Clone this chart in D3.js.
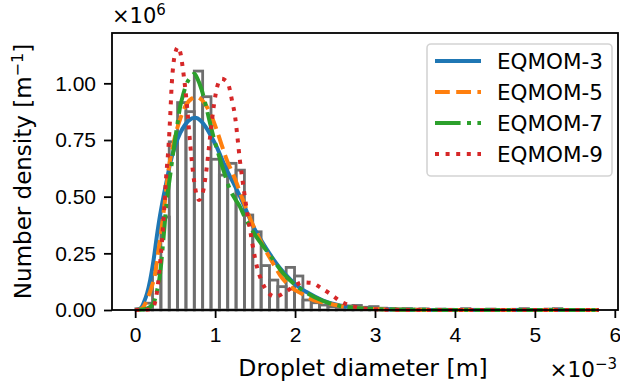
<!DOCTYPE html>
<html>
<head>
<meta charset="utf-8">
<script src="https://cdn.jsdelivr.net/npm/d3@7"></script>
<style>
  body { margin: 0; background: #fff; }
  svg { font-family: "DejaVu Sans", sans-serif; }
</style>
</head>
<body>
<div id="chart"></div>
<script>
// diameters in units of 1e-3 m, densities in units of 1e6 1/m
var binEdges = [0.008, 0.1125, 0.217, 0.3215, 0.426, 0.5305, 0.635, 0.7395, 0.844, 0.9485,
  1.053, 1.1575, 1.262, 1.3665, 1.471, 1.5755, 1.68, 1.7845, 1.889, 1.9935,
  2.098, 2.2025, 2.307, 2.4115, 2.516, 2.6205, 2.725, 2.8295, 2.934, 3.0385,
  3.143, 3.2475, 3.352, 3.4565, 3.561, 3.6655, 3.77, 3.8745, 3.979, 4.0835,
  4.188, 4.2925, 4.397, 4.5015, 4.606, 4.7105, 4.815, 4.9195, 5.024, 5.1285,
  5.233, 5.3375, 5.442, 5.5465, 5.651, 5.7555];
var binHeights = [0.005, 0.03, 0.16, 0.41, 0.742, 0.915, 0.875, 1.054, 0.941, 0.665,
  0.595, 0.647, 0.617, 0.419, 0.345, 0.196, 0.132, 0.103, 0.188, 0.15,
  0.044, 0.032, 0.022, 0.015, 0.012, 0.018, 0.02, 0.012, 0.015, 0.008,
  0.006, 0.004, 0.006, 0.003, 0.005, 0.002, 0.004, 0.003, 0.002, 0.006,
  0.003, 0.002, 0.004, 0.002, 0.001, 0.003, 0.006, 0.002, 0.001, 0.004,
  0.006, 0.002, 0.001, 0.002, 0.001];

var eqmom3 = [[0,0],[0.04,0.003],[0.08,0.012],[0.104,0.03],[0.15,0.075],[0.1875,0.132],[0.23,0.22],
  [0.27,0.323],[0.31,0.415],[0.354,0.5],[0.4,0.58],[0.4375,0.647],[0.5,0.725],[0.5625,0.78],
  [0.62,0.815],[0.667,0.835],[0.75,0.848],[0.82,0.835],[0.896,0.8],[0.96,0.76],[1.02,0.72],
  [1.08,0.67],[1.146,0.617],[1.23,0.56],[1.3125,0.5],[1.4,0.43],[1.48,0.367],[1.58,0.305],
  [1.6875,0.245],[1.81,0.185],[1.94,0.135],[2.06,0.098],[2.15,0.078],[2.35,0.042],[2.56,0.02],
  [2.8,0.009],[3.0,0.004],[3.3,0.0015],[3.7,0.0004],[4.5,0],[5.8,0]];
var eqmom5 = [[0,0],[0.06,0.003],[0.1,0.012],[0.146,0.044],[0.2,0.095],[0.25,0.162],[0.29,0.26],
  [0.333,0.367],[0.375,0.49],[0.417,0.617],[0.47,0.72],[0.52,0.794],[0.57,0.85],[0.625,0.897],
  [0.708,0.933],[0.77,0.94],[0.83,0.928],[0.896,0.897],[0.96,0.85],[1.02,0.794],[1.08,0.73],
  [1.146,0.662],[1.21,0.61],[1.27,0.559],[1.31,0.52],[1.396,0.441],[1.4375,0.404],[1.5,0.355],
  [1.5625,0.309],[1.604,0.28],[1.6875,0.228],[1.75,0.19],[1.81,0.155],[1.94,0.103],[2.08,0.073],
  [2.23,0.044],[2.4,0.03],[2.56,0.018],[2.8,0.008],[3.0,0.004],[3.3,0.0015],[3.7,0.0005],[4.5,0],[5.8,0]];
var eqmom7 = [[0,0],[0.1,0.002],[0.17,0.01],[0.23,0.03],[0.27,0.08],[0.3125,0.162],[0.35,0.3],
  [0.396,0.485],[0.44,0.6],[0.48,0.706],[0.52,0.8],[0.5625,0.897],[0.6,0.95],[0.646,1.0],
  [0.7,1.03],[0.74,1.042],[0.78,1.02],[0.833,0.97],[0.885,0.9],[0.9375,0.823],[0.99,0.75],
  [1.04,0.69],[1.11,0.61],[1.1875,0.53],[1.25,0.49],[1.31,0.456],[1.37,0.41],[1.4375,0.367],
  [1.52,0.32],[1.604,0.28],[1.73,0.22],[1.85,0.162],[1.94,0.13],[2.06,0.095],[2.15,0.075],
  [2.35,0.04],[2.56,0.018],[2.8,0.008],[3.0,0.004],[3.3,0.0015],[3.7,0.0005],[4.5,0],[5.8,0]];
var eqmom9 = [[0,0],[0.15,0.001],[0.2,0.005],[0.23,0.015],[0.27,0.073],[0.3,0.162],[0.333,0.294],
  [0.3625,0.441],[0.3875,0.588],[0.417,0.72],[0.4375,0.85],[0.458,1.0],[0.48,1.09],[0.51,1.145],
  [0.535,1.16],[0.565,1.135],[0.604,1.044],[0.646,0.91],[0.6875,0.735],[0.73,0.588],[0.77,0.505],
  [0.8,0.485],[0.83,0.5],[0.854,0.53],[0.896,0.632],[0.9375,0.765],[0.9875,0.91],[1.03,0.99],
  [1.08,1.02],[1.12,1.015],[1.17,0.99],[1.21,0.926],[1.25,0.853],[1.28,0.76],[1.31,0.66],
  [1.354,0.544],[1.396,0.441],[1.4375,0.353],[1.48,0.265],[1.52,0.195],[1.58,0.13],[1.646,0.085],
  [1.75,0.059],[1.875,0.078],[1.98,0.103],[2.1,0.122],[2.2,0.12],[2.33,0.096],[2.46,0.066],
  [2.56,0.04],[2.67,0.022],[2.8,0.01],[3.0,0.003],[3.3,0.0005],[4.0,0],[5.8,0]];

var seriesNames = ["EQMOM-3", "EQMOM-5", "EQMOM-7", "EQMOM-9"];
var xTicks = [0, 1, 2, 3, 4, 5, 6];
var yTicks = [0, 0.25, 0.5, 0.75, 1.0];

var width = 620, height = 390;
var lw = 4;
var styles = [
  {color: "#1f77b4", dash: null},
  {color: "#ff7f0e", dash: [3.7*lw, 1.6*lw]},
  {color: "#2ca02c", dash: [6.4*lw, 1.6*lw, 1*lw, 1.6*lw]},
  {color: "#d62728", dash: [1*lw, 1.65*lw]}
];

var x = d3.scaleLinear().domain([-0.29, 6.04]).range([112, 618]);
var y = d3.scaleLinear().domain([0, 1.222]).range([310, 33]);

var svg = d3.select("#chart").append("svg")
    .attr("width", width)
    .attr("height", height);

// histogram bars (outline only)
var bins = binHeights.map(function(h, i){ return {x0: binEdges[i], x1: binEdges[i+1], h: h}; });
svg.append("g").selectAll("rect")
    .data(bins)
    .enter().append("rect")
    .attr("x", function(d){ return x(d.x0); })
    .attr("width", function(d){ return x(d.x1) - x(d.x0); })
    .attr("y", function(d){ return y(d.h); })
    .attr("height", function(d){ return y(0) - y(d.h); })
    .attr("fill", "none")
    .attr("stroke", "#6e6e6e")
    .attr("stroke-width", 2.8);

// model curves
var line = d3.line()
    .x(function(d){ return x(d[0]); })
    .y(function(d){ return y(d[1]); })
    .curve(d3.curveMonotoneX);

[eqmom3, eqmom5, eqmom7, eqmom9].forEach(function(s, i){
  svg.append("path")
      .attr("d", line(s))
      .attr("fill", "none")
      .attr("stroke", styles[i].color)
      .attr("stroke-width", lw)
      .attr("stroke-dasharray", styles[i].dash ? styles[i].dash.join(",") : null);
});

// axes
var xAxis = d3.axisBottom(x).tickValues(xTicks).tickSize(8).tickPadding(9)
    .tickFormat(d3.format("d"));
var yAxis = d3.axisLeft(y).tickValues(yTicks).tickSize(8).tickPadding(8)
    .tickFormat(d3.format(".2f"));

var gx = svg.append("g").attr("transform", "translate(0," + y(0) + ")").call(xAxis);
var gy = svg.append("g").attr("transform", "translate(" + x.range()[0] + ",0)").call(yAxis);
[gx, gy].forEach(function(g){
  g.select(".domain").remove();
  g.selectAll("line").attr("stroke", "#000").attr("stroke-width", 1.8);
  g.selectAll("text").attr("fill", "#000").style("font-size", "21px");
});

// frame
svg.append("rect")
    .attr("x", x.range()[0]).attr("y", y.range()[1])
    .attr("width", x.range()[1] - x.range()[0])
    .attr("height", y.range()[0] - y.range()[1])
    .attr("fill", "none").attr("stroke", "#000").attr("stroke-width", 1.8);

// offset texts
var t6 = svg.append("text").attr("x", 112).attr("y", 23).style("font-size", "21px");
t6.append("tspan").text("×10");
t6.append("tspan").attr("dy", -8).style("font-size", "15px").text("6");

var t3 = svg.append("text").attr("x", 617).attr("y", 377).attr("text-anchor", "end").style("font-size", "21.5px");
t3.append("tspan").text("×10");
t3.append("tspan").attr("dy", -8).style("font-size", "15px").text("−3");

// axis labels
svg.append("text")
    .attr("x", (x.range()[0] + x.range()[1]) / 2 - 2)
    .attr("y", 376)
    .attr("text-anchor", "middle")
    .style("font-size", "23.5px")
    .text("Droplet diameter [m]");

var yl = svg.append("text")
    .attr("transform", "translate(31," + ((y.range()[0] + y.range()[1]) / 2) + ") rotate(-90)")
    .attr("text-anchor", "middle")
    .style("font-size", "23px");
yl.append("tspan").text("Number density [m");
yl.append("tspan").attr("dy", -8).style("font-size", "16px").text("−1");
yl.append("tspan").attr("dy", 8).text("]");

// legend
var lg = svg.append("g");
lg.append("rect")
    .attr("x", 427).attr("y", 44).attr("width", 185).attr("height", 132)
    .attr("rx", 4)
    .attr("fill", "#fff").attr("fill-opacity", 0.8)
    .attr("stroke", "#d4d4d4").attr("stroke-width", 1.6);
var rowY = [61, 92, 123, 154];
seriesNames.forEach(function(name, i){
  lg.append("line")
      .attr("x1", 435).attr("x2", 481)
      .attr("y1", rowY[i]).attr("y2", rowY[i])
      .attr("stroke", styles[i].color)
      .attr("stroke-width", lw)
      .attr("stroke-dasharray", styles[i].dash ? styles[i].dash.join(",") : null);
  lg.append("text")
      .attr("x", 497).attr("y", rowY[i] + 7.5)
      .style("font-size", "21.5px")
      .text(name);
});
</script>
</body>
</html>
